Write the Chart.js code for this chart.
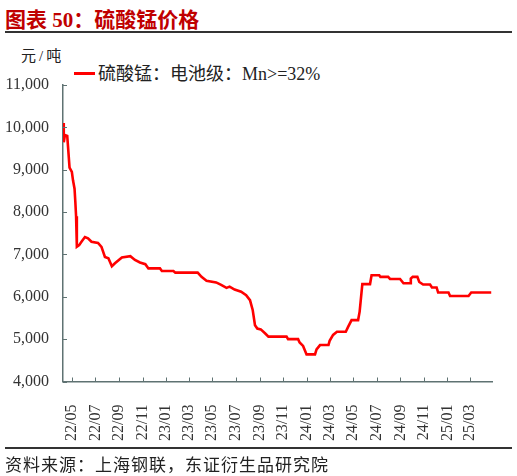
<!DOCTYPE html>
<html>
<head>
<meta charset="utf-8">
<script src="https://cdn.jsdelivr.net/npm/chart.js@4.4.1/dist/chart.umd.min.js"></script>
<style>
  html, body { margin: 0; padding: 0; background: #fff; }
  #wrap { position: relative; width: 517px; height: 476px; overflow: hidden; }
  #grafico { position: absolute; left: 0; top: 0; }
  .txt { position: absolute; font-family: "Liberation Serif", "Noto Sans CJK SC", serif; color: #222; white-space: nowrap; }
  #titulo { left: 5px; top: 3px; font-size: 21px; font-weight: bold; color: #c00000; }
  .regla { position: absolute; left: 5px; width: 507px; height: 1.5px; background: #333; }
  #unidad { left: 21px; top: 44px; font-size: 15px; letter-spacing: 3px; }
  #leyenda { left: 74px; top: 59px; font-size: 18px; }
  #leyenda span.linea { display: inline-block; width: 21px; height: 3px; background: #ff0000; vertical-align: middle; margin-right: 3px; position: relative; top: -2px; }
  #fuente { left: 5px; top: 451px; font-size: 17px; letter-spacing: 1px; }
</style>
</head>
<body>
<div id="wrap">
  <div class="txt" id="titulo">图表 50：硫酸锰价格</div>
  <div class="regla" style="top:31px"></div>
  <div class="txt" id="unidad">元/吨</div>
  <div class="txt" id="leyenda"></div>
  <canvas id="grafico" width="517" height="476"></canvas>
  <div class="regla" style="top:447px"></div>
  <div class="txt" id="fuente">资料来源：上海钢联，东证衍生品研究院</div>
</div>
<script>
// datos
const serieNombre = "硫酸锰：电池级：Mn>=32%"
const fechas = [
  "2022-04-08","2022-04-10","2022-04-13","2022-04-19","2022-04-21","2022-04-25","2022-05-01","2022-05-04",
  "2022-05-08","2022-05-10","2022-05-12","2022-05-14","2022-05-20","2022-05-26","2022-06-04","2022-06-12",
  "2022-06-21","2022-07-08","2022-07-17","2022-07-26","2022-08-04","2022-08-13","2022-08-21","2022-09-08",
  "2022-09-30","2022-10-12","2022-10-25","2022-11-08","2022-11-16","2022-12-16","2022-12-21","2023-01-20",
  "2023-01-25","2023-03-24","2023-04-03","2023-04-16","2023-05-11","2023-05-24","2023-06-07","2023-06-15",
  "2023-06-28","2023-07-15","2023-07-28","2023-08-07","2023-08-14","2023-08-20","2023-08-26","2023-09-04",
  "2023-09-15","2023-09-24","2023-11-10","2023-11-14","2023-12-10","2023-12-14","2023-12-23","2024-01-01",
  "2024-01-23","2024-01-27","2024-02-05","2024-02-27","2024-03-01","2024-03-10","2024-03-20","2024-04-12",
  "2024-04-18","2024-04-27","2024-05-14","2024-05-18","2024-05-25","2024-06-14","2024-06-18","2024-07-08",
  "2024-07-11","2024-07-31","2024-08-05","2024-08-31","2024-09-09","2024-09-26","2024-09-28","2024-10-03",
  "2024-10-15","2024-10-20","2024-10-30","2024-11-17","2024-11-22","2024-12-04","2024-12-08","2025-01-04",
  "2025-01-08","2025-02-25","2025-03-04","2025-04-25"
]
const precios = [
  10100, 9650, 9820, 9800, 9550, 9050, 8950, 8750,
  8550, 8250, 7900, 7180, 7220, 7300, 7410, 7380,
  7300, 7270, 7180, 6940, 6910, 6720, 6790, 6930,
  6960, 6870, 6810, 6770, 6670, 6670, 6610, 6610,
  6570, 6570, 6470, 6380, 6340, 6280, 6210, 6240,
  6170, 6120, 6040, 5920, 5690, 5330, 5250, 5230,
  5140, 5060, 5060, 5000, 5000, 4920, 4840, 4640,
  4640, 4760, 4860, 4860, 4960, 5100, 5175, 5175,
  5290, 5450, 5450, 5650, 6300, 6300, 6510, 6510,
  6470, 6470, 6420, 6420, 6320, 6320, 6430, 6470,
  6470, 6350, 6290, 6290, 6220, 6220, 6100, 6100,
  6020, 6020, 6100, 6100
]
const etiquetasX = ["22/05","22/07","22/09","22/11","23/01","23/03","23/05","23/07","23/09",
  "23/11","24/01","24/03","24/05","24/07","24/09","24/11","25/01","25/03"]
const ticksY = [4000, 5000, 6000, 7000, 8000, 9000, 10000, 11000]
const inicioEje = "2022-04-08"
const finEje = "2025-04-27"

const colorEje = "#5f7272"
const fuenteNum = "'Liberation Serif', 'Times New Roman', serif"

const dia = (s) => {
  const p = s.split("-").map(Number)
  return Date.UTC(p[0], p[1] - 1, p[2]) / 86400000
}
const diaEtiqueta = (e) => {
  const [aa, mm] = e.split("/").map(Number)
  return Date.UTC(2000 + aa, mm - 1, 1) / 86400000
}
const posTicksX = etiquetasX.map(diaEtiqueta)

const puntos = fechas.map((f, i) => ({ x: dia(f), y: precios[i] }))

document.querySelector('#leyenda').innerHTML = `<span class="linea"></span>${serieNombre}`

// ticks hacia adentro
const ticksAdentro = {
  id: 'ticksAdentro',
  afterDraw(chart) {
    const ctx = chart.ctx
    const x = chart.scales.x
    const y = chart.scales.y
    ctx.save()
    ctx.strokeStyle = colorEje
    ctx.lineWidth = 1
    ctx.beginPath()
    ticksY.forEach(v => {
      const py = Math.round(y.getPixelForValue(v)) + 0.5
      ctx.moveTo(x.left, py)
      ctx.lineTo(x.left + 4, py)
    })
    posTicksX.forEach(v => {
      const px = Math.round(x.getPixelForValue(v)) + 0.5
      ctx.moveTo(px, y.bottom)
      ctx.lineTo(px, y.bottom - 4)
    })
    ctx.stroke()
    ctx.restore()
  }
}

const grafico = document.querySelector('#grafico')
new Chart(grafico, {
  type: 'line',
  data: {
    datasets: [{
      label: serieNombre,
      data: puntos,
      borderColor: '#ff0000',
      borderWidth: 2.6,
      pointRadius: 0,
      tension: 0,
      fill: false
    }]
  },
  options: {
    responsive: false,
    animation: false,
    layout: { padding: { top: 85, right: 25, bottom: 34.5, left: 0 } },
    plugins: {
      legend: { display: false },
      tooltip: { enabled: false }
    },
    scales: {
      x: {
        type: 'linear',
        min: dia(inicioEje),
        max: dia(finEje),
        grid: { display: false },
        border: { display: true, color: colorEje, width: 1.5 },
        afterBuildTicks: (s) => { s.ticks = posTicksX.map(v => ({ value: v })) },
        afterFit: (s) => { s.height = 60 },
        ticks: {
          autoSkip: false,
          maxRotation: 90,
          minRotation: 90,
          padding: 15,
          color: '#333',
          font: { family: fuenteNum, size: 16 },
          callback: (v, i) => etiquetasX[i]
        }
      },
      y: {
        min: 4000,
        max: 11000,
        grid: { display: false },
        border: { display: true, color: colorEje, width: 1.5 },
        afterBuildTicks: (s) => { s.ticks = ticksY.map(v => ({ value: v })) },
        afterFit: (s) => { s.width = 63 },
        ticks: {
          padding: 6,
          color: '#333',
          font: { family: fuenteNum, size: 16 },
          callback: (v) => v.toLocaleString('en-US')
        }
      }
    }
  },
  plugins: [ticksAdentro]
})
</script>
</body>
</html>
